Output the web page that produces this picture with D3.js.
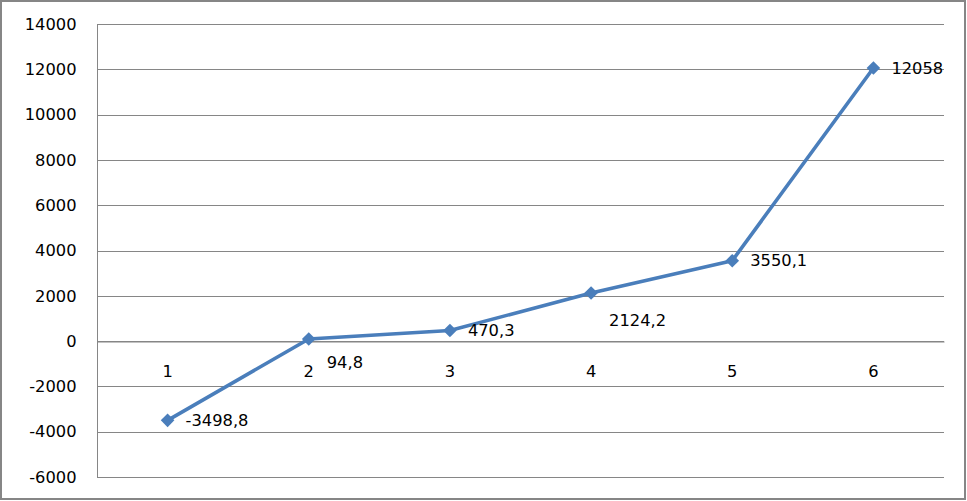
<!DOCTYPE html>
<html>
<head>
<meta charset="utf-8">
<script src="https://cdn.jsdelivr.net/npm/d3@7"></script>
<style>
  html, body { margin: 0; padding: 0; background: #fff; }
  svg { display: block; }
  text { font-family: "DejaVu Sans", sans-serif; font-size: 16.3px; fill: #000; }
</style>
</head>
<body>
<svg id="chart" width="967" height="501"></svg>
<script>
const categories = ["1", "2", "3", "4", "5", "6"];
const values = [-3498.8, 94.8, 470.3, 2124.2, 3550.1, 12058];
const valueLabels = ["-3498,8", "94,8", "470,3", "2124,2", "3550,1", "12058"];
const yTicks = [-6000, -4000, -2000, 0, 2000, 4000, 6000, 8000, 10000, 12000, 14000];

const W = 967, H = 501;
const plot = { left: 97, right: 944, top: 24, bottom: 477 };
const FONT = "'DejaVu Sans', sans-serif";
const FS = "16.3px";
const svg = d3.select("#chart");

// outer border
svg.append("rect").attr("x", 1).attr("y", 1).attr("width", W - 3).attr("height", H - 3)
  .attr("fill", "#fff").attr("stroke", "#868686").attr("stroke-width", 2);

const x = d3.scaleBand().domain(categories).range([plot.left, plot.right]);
const y = d3.scaleLinear().domain([-6000, 14000]).range([plot.bottom, plot.top]);

// gridlines
svg.append("g").selectAll("line").data(yTicks).join("line")
  .attr("x1", plot.left).attr("x2", plot.right)
  .attr("y1", d => Math.round(y(d)) + 0.5).attr("y2", d => Math.round(y(d)) + 0.5)
  .attr("stroke", "#868686").attr("stroke-width", 1);

// y axis
const yAxis = d3.axisLeft(y).tickValues(yTicks).tickSize(0).tickPadding(21).tickFormat(d => String(d));
const gy = svg.append("g").attr("transform", `translate(${plot.left + 0.5},0)`).call(yAxis);
gy.select(".domain").attr("stroke", "#868686").attr("d", `M0,${plot.top}V${plot.bottom + 0.5}`);
gy.selectAll("text").style("font-family", FONT).style("font-size", FS).attr("fill", "#000");

// x axis at zero
const xAxis = d3.axisBottom(x).tickSize(0).tickPadding(24);
const gx = svg.append("g").attr("transform", `translate(0,${Math.round(y(0)) + 0.5})`).call(xAxis);
gx.select(".domain").attr("stroke", "#868686");
gx.selectAll("text").style("font-family", FONT).style("font-size", FS).attr("fill", "#000");

const cx = d => x(d) + x.bandwidth() / 2;
const pts = categories.map((c, i) => [cx(c), y(values[i])]);

svg.append("path").datum(pts)
  .attr("d", d3.line())
  .attr("fill", "none").attr("stroke", "#4A7EBB").attr("stroke-width", 3.6)
  .attr("stroke-linejoin", "round");

svg.append("g").selectAll("path").data(pts).join("path")
  .attr("transform", d => `translate(${d[0]},${d[1]})`)
  .attr("d", "M0,-6.8L6.8,0L0,6.8L-6.8,0Z")
  .attr("fill", "#4A7EBB");

// data labels (manual vertical nudges like the original)
const labelDy = [0, 23, 0, 27, 0, 0];
svg.append("g").selectAll("text").data(pts).join("text")
  .attr("x", (d, i) => d[0] + 18)
  .attr("y", (d, i) => d[1] + labelDy[i])
  .attr("dy", "0.35em")
  .text((d, i) => valueLabels[i]);
</script>
</body>
</html>
